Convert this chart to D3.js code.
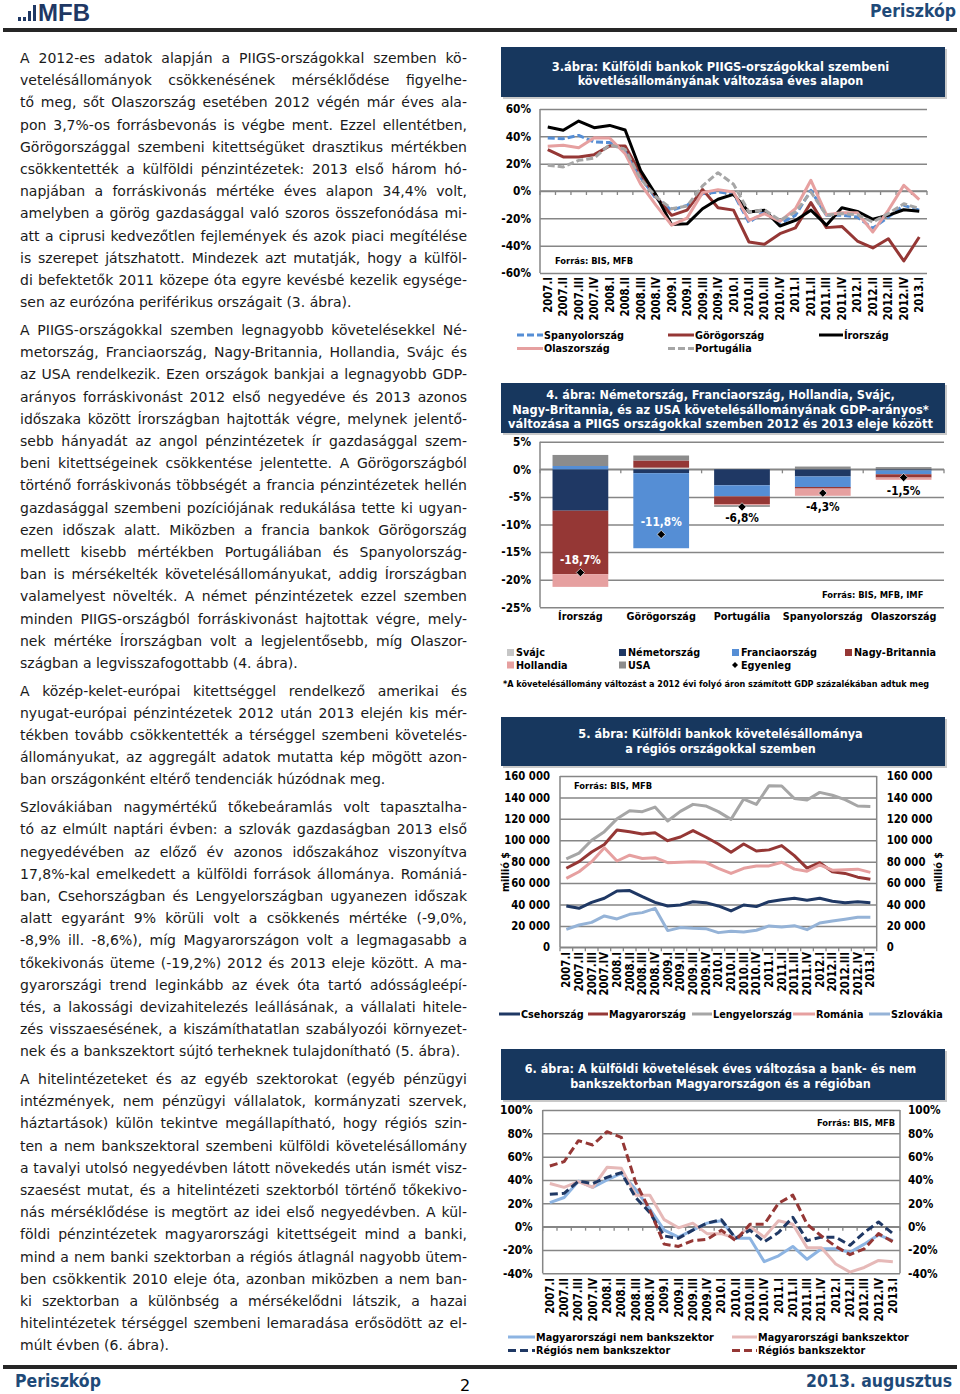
<!DOCTYPE html>
<html><head><meta charset="utf-8">
<script src="https://cdn.jsdelivr.net/npm/d3@7"></script>
<style>
html,body{margin:0;padding:0;background:#fff;}
svg{display:block;}
</style></head><body>
<svg id="page" width="960" height="1394"></svg>
<script>
// ---------------- DATA ----------------
const quarters = ["2007.I","2007.II","2007.III","2007.IV","2008.I","2008.II","2008.III","2008.IV","2009.I","2009.II","2009.III","2009.IV","2010.I","2010.II","2010.III","2010.IV","2011.I","2011.II","2011.III","2011.IV","2012.I","2012.II","2012.III","2012.IV","2013.I"];

// Chart 3 (%)
const spanyol = [38.8,38.3,40.7,35.9,35.4,29.8,10,-5.6,-14,-10.5,-2,-0.7,-2,-23,-15,-24,-17.8,0.5,-17.8,-17.8,-19,-27.3,-19,-10.5,-14];
const gorog   = [30.2,24.9,24.9,26.6,33,32.9,12.7,-4.4,-17.8,-14,1.2,-12.2,-14,-37.3,-39,-31.2,-27,-8.5,-26.8,-25.9,-36.6,-41.7,-34.9,-51.2,-33.7];
const ir      = [46.8,44.4,51.2,46.3,48,44.6,15,-3,-24.6,-24,-13,-6,-2.5,-15.4,-14,-25.6,-21.5,-14,-25,-12.2,-14.9,-20.7,-17.8,-13.7,-14.9];
const olasz   = [32.7,33.4,31.7,39,38.8,27.3,5,-10.5,-25,-19.8,-1.2,1,-0.7,-21.5,-16.6,-22.2,-13,7.8,-17.3,-15.9,-15.9,-30,-14.1,4.1,-6.3];
const portug  = [18.8,17.6,22.4,24.1,33.9,30.5,9,-4.4,-13,-11,3.7,13.4,5,-15.4,-13.7,-21.5,-15.4,-0.7,-17.8,-16.6,-17.3,-22.7,-16.6,-9.3,-12.9];
const ticks3 = [-60,-40,-20,0,20,40,60];

// Chart 4 (% of GDP)
const countries4 = ["Írország","Görögország","Portugália","Spanyolország","Olaszország"];
const svajc   = [0, 0.3, 0, 0, 0];
const nemet   = [-7.5, -0.7, -2.9, -1.3, -0.2];
const francia = [0.6, -13.6, -2.0, -1.9, -0.7];
const nagyb   = [-11.5, 1.3, -1.4, -0.3, -0.6];
const holland = [-2.3, 0, -0.2, -1.3, -0.4];
const usa     = [2.0, 0.9, -0.3, 0.5, 0.4];
const egyenleg = [-18.7, -11.8, -6.8, -4.3, -1.5];
const ticks4 = [-25,-20,-15,-10,-5,0,5];

// Chart 5 (millió $)
const cseh    = [38600,36400,42000,45800,52600,53000,47300,42000,38600,39500,42600,41700,38600,34000,39500,38000,42600,44500,45800,44000,45800,43000,41700,42600,41700];
const magyar  = [73800,80000,89000,96000,109600,108000,105800,107000,99600,103000,109000,103000,96500,88700,96500,90000,91000,95000,85600,74000,79000,70500,69000,65500,63500];
const lengyel = [82500,88000,100000,108000,120000,127600,126700,131000,118000,127000,133500,132000,126700,119500,138500,133500,151000,150700,139000,137600,144700,142000,138000,132000,131500];
const roman   = [64400,70600,80000,93000,80600,86000,83000,83700,79000,79400,80000,79400,73800,69000,73800,76000,76000,79400,73000,71000,77000,72000,72500,73000,70000];
const szlovak = [16800,20800,23300,29300,26500,30800,32400,36400,15600,18400,17700,17400,13700,15000,14300,15900,20000,19000,20200,16500,22700,24600,26200,28000,28000];
const ticks5 = [0,20000,40000,60000,80000,100000,120000,140000,160000];

// Chart 6 (%)
const mNemBank = [20.6,25,39,33.7,40,45.7,32,15,-3,-9,-3,3,5,-10,-10,-30,-25,-17,-28,-19,-19,-22,-15,-7,-12];
const mBank    = [37,33.7,38.6,33.7,50.9,50,27,27,6,-1,3,-6,-6,-10,0,-9,5,2,-18,-18,-32,-39,-35,-29,-30];
const rNemBank = [27.7,28.6,39,37,42.3,46.3,25,12,-8,-10,-3,3,6,-10,-3,-13,-5,8,-12,-9,-9,-16,-5,4,-6];
const rBank    = [52,55.7,73.7,70,81.4,76.6,38,14,-15,-17,-12,-11,-3,-12,2,2,20,27,2,-8,-17,-24,-19,-6,-13];
const ticks6 = [-40,-20,0,20,40,60,80,100];

// Body text
const paragraphs = [
["A 2012-es adatok alapján a PIIGS-országokkal szemben kö-",
 "vetelésállományok csökkenésének mérséklődése figyelhe-",
 "tő meg, sőt Olaszország esetében 2012 végén már éves ala-",
 "pon 3,7%-os forrásbevonás is végbe ment. Ezzel ellentétben,",
 "Görögországgal szembeni kitettségüket drasztikus mértékben",
 "csökkentették a külföldi pénzintézetek: 2013 első három hó-",
 "napjában a forráskivonás mértéke éves alapon 34,4% volt,",
 "amelyben a görög gazdasággal való szoros összefonódása mi-",
 "att a ciprusi kedvezőtlen fejlemények és azok piaci megítélése",
 "is szerepet játszhatott. Mindezek azt mutatják, hogy a külföl-",
 "di befektetők 2011 közepe óta egyre kevésbé kezelik egysége-",
 "sen az eurózóna periférikus országait (3. ábra)."],
["A PIIGS-országokkal szemben legnagyobb követelésekkel Né-",
 "metország, Franciaország, Nagy-Britannia, Hollandia, Svájc és",
 "az USA rendelkezik. Ezen országok bankjai a legnagyobb GDP-",
 "arányos forráskivonást 2012 első negyedéve és 2013 azonos",
 "időszaka között Írországban hajtották végre, melynek jelentő-",
 "sebb hányadát az angol pénzintézetek ír gazdasággal szem-",
 "beni kitettségeinek csökkentése jelentette. A Görögországból",
 "történő forráskivonás többségét a francia pénzintézetek hellén",
 "gazdasággal szembeni pozíciójának redukálása tette ki ugyan-",
 "ezen időszak alatt. Miközben a francia bankok Görögország",
 "mellett kisebb mértékben Portugáliában és Spanyolország-",
 "ban is mérsékelték követelésállományukat, addig Írországban",
 "valamelyest növelték. A német pénzintézetek ezzel szemben",
 "minden PIIGS-országból forráskivonást hajtottak végre, mely-",
 "nek mértéke Írországban volt a legjelentősebb, míg Olaszor-",
 "szágban a legvisszafogottabb (4. ábra)."],
["A közép-kelet-európai kitettséggel rendelkező amerikai és",
 "nyugat-európai pénzintézetek 2012 után 2013 elején kis mér-",
 "tékben tovább csökkentették a térséggel szembeni követelés-",
 "állományukat, az aggregált adatok mutatta kép mögött azon-",
 "ban országonként eltérő tendenciák húzódnak meg."],
["Szlovákiában nagymértékű tőkebeáramlás volt tapasztalha-",
 "tó az elmúlt naptári évben: a szlovák gazdaságban 2013 első",
 "negyedévében az előző év azonos időszakához viszonyítva",
 "17,8%-kal emelkedett a külföldi források állománya. Romániá-",
 "ban, Csehországban és Lengyelországban ugyanezen időszak",
 "alatt egyaránt 9% körüli volt a csökkenés mértéke (-9,0%,",
 "-8,9% ill. -8,6%), míg Magyarországon volt a legmagasabb a",
 "tőkekivonás üteme (-19,2%) 2012 és 2013 eleje között. A ma-",
 "gyarországi trend leginkább az évek óta tartó adósságleépí-",
 "tés, a lakossági devizahitelezés leállásának, a vállalati hitele-",
 "zés visszaesésének, a kiszámíthatatlan szabályozói környezet-",
 "nek és a bankszektort sújtó terheknek tulajdonítható (5. ábra)."],
["A hitelintézeteket és az egyéb szektorokat (egyéb pénzügyi",
 "intézmények, nem pénzügyi vállalatok, kormányzati szervek,",
 "háztartások) külön tekintve megállapítható, hogy régiós szin-",
 "ten a nem bankszektoral szembeni külföldi követelésállomány",
 "a tavalyi utolsó negyedévben látott növekedés után ismét visz-",
 "szaesést mutat, és a hitelintézeti szektorból történő tőkekivo-",
 "nás mérséklődése is megtört az idei első negyedévben. A kül-",
 "földi pénzintézetek magyarországi kitettségeit mind a banki,",
 "mind a nem banki szektorban a régiós átlagnál nagyobb ütem-",
 "ben csökkentik 2010 eleje óta, azonban miközben a nem ban-",
 "ki szektorban a különbség a mérsékelődni látszik, a hazai",
 "hitelintézetek térséggel szembeni lemaradása erősödött az el-",
 "múlt évben (6. ábra)."]
];

// ---------------- DRAWING ----------------
const FONT = '"DejaVu Sans", Verdana, sans-serif';
const GRID = "#868686";
const NAVYBOX = "#17375E";
const HEAD = "#1F4A78";
const svg = d3.select("#page");
svg.append("rect").attr("width",960).attr("height",1394).attr("fill","#fff");

const loc = d3.formatLocale({decimal:",", thousands:" ", grouping:[3], currency:["","$"], minus:"-"});
const fmtThou = loc.format(",");
const fmtDec = loc.format(".1f");
const fmtPct = d => d + "%";

// squeeze a text horizontally (Tahoma-like narrow bold) via a real transform
function squeeze(node, target){
  const el = d3.select(node);
  const w = node.getComputedTextLength();
  if (!w) return;
  const f = target / w;
  const x = +el.attr("x") || 0, y = +el.attr("y") || 0;
  const tr = el.attr("transform") || "";
  el.attr("x",0).attr("y",0).attr("transform", `${tr} translate(${x},${y}) scale(${f},1)`.trim());
}

// header / footer
const hdr = svg.append("g");
[[18,17,3,4],[23,17,3,4],[28,11,3,10],[33,5,3,16]].forEach(r=>{
  hdr.append("rect").attr("x",r[0]).attr("y",r[1]).attr("width",r[2]).attr("height",r[3]).attr("fill","#1F3864");
});
const mfb = hdr.append("text").attr("x",38).attr("y",21).attr("font-family",'"Liberation Sans", Arial, sans-serif')
  .attr("font-weight","bold").attr("font-size",24).attr("fill","#1F3864").text("MFB");
squeeze(mfb.node(), 52);
const hp = hdr.append("text").attr("x",956).attr("y",17).attr("text-anchor","end").attr("font-family",FONT)
  .attr("font-weight","bold").attr("font-size",17).attr("fill",HEAD).text("Periszkóp");
squeeze(hp.node(), 86);
hdr.append("rect").attr("x",3).attr("y",28).attr("width",954).attr("height",4).attr("fill","#262626");
hdr.append("rect").attr("x",3).attr("y",1365).attr("width",954).attr("height",4).attr("fill","#262626");
const fp = hdr.append("text").attr("x",15).attr("y",1387).attr("font-family",FONT).attr("font-weight","bold")
  .attr("font-size",17).attr("fill",HEAD).text("Periszkóp");
squeeze(fp.node(), 86);
const fd = hdr.append("text").attr("x",952).attr("y",1387).attr("text-anchor","end").attr("font-family",FONT).attr("font-weight","bold")
  .attr("font-size",17).attr("fill",HEAD).text("2013. augusztus");
squeeze(fd.node(), 146);
hdr.append("text").attr("x",465).attr("y",1391).attr("text-anchor","middle").attr("font-family",FONT)
  .attr("font-size",16).attr("fill","#000").text("2");

// body text
(function(){
  let li = 0;
  paragraphs.forEach((p,pi)=>{
    p.forEach((line,k)=>{
      const y = 63 + 22.2*li + 5.5*pi;
      const t = svg.append("text").attr("x",20).attr("y",y).attr("font-family",FONT)
        .attr("font-size",14).attr("fill","#1a1a1a").text(line);
      if (k < p.length-1) {
        const w = t.node().getComputedTextLength();
        const n = (line.match(/ /g)||[]).length;
        if (n>0) t.style("word-spacing", ((447-w)/n) + "px");
      }
      li++;
    });
  });
})();

// helpers
function titleBox(y, h, lines){
  svg.append("rect").attr("x",503).attr("y",y+2).attr("width",444).attr("height",h).attr("fill","#c9c9c9");
  svg.append("rect").attr("x",501).attr("y",y).attr("width",444).attr("height",h).attr("fill",NAVYBOX);
  lines.forEach(l=>{
    const t = svg.append("text").attr("x",720.5).attr("y",l[1]).attr("dy","0.35em").attr("text-anchor","middle")
      .attr("font-family",FONT).attr("font-weight","bold").attr("font-size",13).attr("fill","#fff").text(l[0]);
    squeeze(t.node(), l[2]);
  });
}
function styleAxis(a, fs){
  a.select(".domain").remove();
  a.attr("font-family",FONT).attr("font-weight","bold").attr("font-size",fs);
  a.selectAll("text").attr("fill","#000");
}
function yGrid(g, y, x0, x1, ticks, fmt, pad, fs){
  const a = g.append("g").attr("transform",`translate(${x0},0)`)
    .call(d3.axisLeft(y).tickValues(ticks).tickSize(-(x1-x0)).tickPadding(pad).tickFormat(fmt));
  styleAxis(a, fs);
  a.selectAll(".tick line").attr("stroke",GRID).attr("stroke-width",1.5);
  return a;
}
function yRight(g, y, x1, ticks, fmt, pad, fs){
  const a = g.append("g").attr("transform",`translate(${x1},0)`)
    .call(d3.axisRight(y).tickValues(ticks).tickSize(0).tickPadding(pad).tickFormat(fmt));
  styleAxis(a, fs);
  return a;
}
function vline(g, x, y0, y1){
  g.append("line").attr("x1",x).attr("x2",x).attr("y1",y0).attr("y2",y1).attr("stroke",GRID).attr("stroke-width",1.5);
}
function xAxisLine(g, x, y0){
  const r = x.range();
  g.append("line").attr("x1",r[0]).attr("x2",r[1]).attr("y1",y0).attr("y2",y0).attr("stroke",GRID).attr("stroke-width",1.5);
  const bs = x.domain().map(d => x(d) - (x.step()-x.bandwidth())/2);
  bs.push(r[1]);
  g.selectAll(null).data(bs).join("line").attr("x1",d=>d).attr("x2",d=>d)
    .attr("y1",y0).attr("y2",y0+4).attr("stroke",GRID).attr("stroke-width",1.3);
}
function xRotLabels(g, x, yTop, fs){
  const a = g.append("g").attr("transform",`translate(0,${yTop})`)
    .call(d3.axisBottom(x).tickSize(0).tickPadding(0));
  styleAxis(a, fs);
  a.selectAll("text").attr("transform","rotate(-90)").attr("text-anchor","end")
    .attr("x",0).attr("y",0).attr("dy","0.35em");
}
function drawLines(g, x, y, series, styles){
  const line = d3.line().x((d,i)=>x(quarters[i]) + x.bandwidth()/2).y(d=>y(d));
  series.forEach(s=>{
    const st = styles[s.name];
    g.append("path").attr("d", line(s.values)).attr("fill","none").attr("stroke",st.color)
      .attr("stroke-width",st.w||3).attr("stroke-linejoin","round").attr("stroke-linecap","butt")
      .attr("stroke-dasharray",st.dash||null);
  });
}
function legendLine(g, x1, x2, y, st, label, fs){
  g.append("line").attr("x1",x1).attr("x2",x2).attr("y1",y).attr("y2",y).attr("stroke",st.color)
    .attr("stroke-width",3).attr("stroke-dasharray",st.dash||null);
  g.append("text").attr("x",x2+1).attr("y",y).attr("dy","0.35em").attr("font-size",fs||11).text(label);
}
function chartGroup(){
  return svg.append("g").attr("class","ch").attr("font-family",FONT).attr("font-weight","bold").attr("fill","#000");
}

// ---------- Chart 3 ----------
titleBox(47, 50, [["3.ábra: Külföldi bankok PIIGS-országokkal szembeni",66,338],["követlésállományának változása éves alapon",80.5,286]]);
(function(){
  const g = chartGroup();
  const x = d3.scaleBand().domain(quarters).range([540,927]);
  const y = d3.scaleLinear().domain([-60,60]).range([273,109]);
  yGrid(g, y, 540, 927, ticks3, fmtPct, 9, 12);
  vline(g, 540, 109, 273);
  xAxisLine(g, x, y(0));
  xRotLabels(g, x, 277, 11.5);
  g.append("text").attr("x",555).attr("y",261).attr("dy","0.35em").attr("font-size",9.5).text("Forrás: BIS, MFB");
  const series = [
    {name:"Spanyolország", values:spanyol},
    {name:"Görögország", values:gorog},
    {name:"Írország", values:ir},
    {name:"Olaszország", values:olasz},
    {name:"Portugália", values:portug}];
  const styles = {
    "Spanyolország":{color:"#558ED5", dash:"7,3"},
    "Görögország":{color:"#953735"},
    "Írország":{color:"#000000"},
    "Olaszország":{color:"#E6A0A0"},
    "Portugália":{color:"#A6A6A6", dash:"7,3"}};
  drawLines(g, x, y, series, styles);
  const pos = [[517,543,335],[668,694,335],[819,843,335],[517,543,348.5],[668,694,348.5]];
  series.forEach((s,i)=>legendLine(g, pos[i][0], pos[i][1], pos[i][2], styles[s.name], s.name, 11));
})();

// ---------- Chart 4 ----------
titleBox(383, 50, [["4. ábra: Németország, Franciaország, Hollandia, Svájc,",394,349],["Nagy-Britannia, és az USA követelésállományának GDP-arányos*",409,417],["változása a PIIGS országokkal szemben 2012 és 2013 eleje között",423.5,425]]);
(function(){
  const g = chartGroup();
  const keys = ["Svájc","Németország","Franciaország","Nagy-Britannia","Hollandia","USA"];
  const vals = [svajc, nemet, francia, nagyb, holland, usa];
  const colors = {"Svájc":"#C6C6C6","Németország":"#1F3864","Franciaország":"#558ED5","Nagy-Britannia":"#953735","Hollandia":"#E6A0A0","USA":"#8C8C8C"};
  const rows = countries4.map((c,i)=>{ const o={country:c}; keys.forEach((k,j)=>o[k]=vals[j][i]); return o; });
  const x = d3.scaleBand().domain(countries4).range([540,944]).paddingInner(0.31).paddingOuter(0.155);
  const y = d3.scaleLinear().domain([-25,5]).range([607.3,441.7]);
  yGrid(g, y, 540, 944, ticks4, fmtPct, 9, 12);
  vline(g, 540, 441.7, 607.3);
  xAxisLine(g, x, y(0));
  const stack = d3.stack().keys(keys).offset(d3.stackOffsetDiverging)(rows);
  stack.forEach(layer=>{
    g.append("g").attr("fill",colors[layer.key]).selectAll("rect").data(layer).join("rect")
      .attr("x",d=>x(d.data.country)).attr("width",x.bandwidth())
      .attr("y",d=>y(Math.max(d[0],d[1]))).attr("height",d=>Math.abs(y(d[0])-y(d[1])));
  });
  const a = g.append("g").attr("transform",`translate(0,${y(-25)})`).call(d3.axisBottom(x).tickSize(0).tickPadding(5));
  styleAxis(a, 11);
  g.selectAll("path.dia").data(egyenleg).join("path").attr("class","dia")
    .attr("d", d3.symbol(d3.symbolSquare, 34))
    .attr("transform",(d,i)=>`translate(${x(countries4[i])+x.bandwidth()/2},${y(d)}) rotate(45)`)
    .attr("fill","#000").attr("stroke","#fff").attr("stroke-width",0.6);
  egyenleg.forEach((v,i)=>{
    let negSum = 0; keys.forEach((k,j)=>{ if (vals[j][i]<0) negSum += vals[j][i]; });
    const inside = i < 2;
    g.append("text").attr("x",x(countries4[i])+x.bandwidth()/2)
      .attr("y", inside ? y(v)-13 : y(negSum)+11).attr("dy","0.35em").attr("text-anchor","middle")
      .attr("font-size",12).attr("fill", inside ? "#fff" : "#000").text(fmtDec(v)+"%");
  });
  g.append("text").attr("x",822).attr("y",595).attr("dy","0.35em").attr("font-size",9.5).text("Forrás: BIS, MFB, IMF");
  const pos = [[507,652.5],[619,652.5],[732,652.5],[845,652.5],[507,665],[619,665]];
  keys.forEach((k,i)=>{
    g.append("rect").attr("x",pos[i][0]).attr("y",pos[i][1]-3.5).attr("width",7).attr("height",7).attr("fill",colors[k]);
    g.append("text").attr("x",pos[i][0]+9).attr("y",pos[i][1]).attr("dy","0.35em").attr("font-size",11).text(k);
  });
  g.append("path").attr("d",d3.symbol(d3.symbolSquare,18)).attr("transform","translate(735,665) rotate(45)").attr("fill","#000");
  g.append("text").attr("x",741).attr("y",665).attr("dy","0.35em").attr("font-size",11).text("Egyenleg");
  g.append("text").attr("x",503).attr("y",683.5).attr("dy","0.35em").attr("font-size",9)
    .attr("data-w",427).text("*A követelésállomány változást a 2012 évi folyó áron számított GDP százalékában adtuk meg");
})();

// ---------- Chart 5 ----------
titleBox(717, 49, [["5. ábra: Külföldi bankok követelésállománya",733.5,285],["a régiós országokkal szemben",748.5,191]]);
(function(){
  const g = chartGroup();
  const x = d3.scaleBand().domain(quarters).range([560,876.7]);
  const y = d3.scaleLinear().domain([0,160000]).range([947.3,776]);
  yGrid(g, y, 560, 876.7, ticks5, fmtThou, 10, 11.5);
  yRight(g, y, 876.7, ticks5, fmtThou, 10, 11.5);
  vline(g, 560, 776, 947.3);
  vline(g, 876.7, 776, 947.3);
  xAxisLine(g, x, y(0));
  xRotLabels(g, x, 952, 11.5);
  g.append("text").attr("x",574).attr("y",785.5).attr("dy","0.35em").attr("font-size",9.5).text("Forrás: BIS, MFB");
  g.append("text").attr("transform","translate(505,872) rotate(-90)").attr("text-anchor","middle").attr("dy","0.35em").attr("font-size",11).text("millió $");
  g.append("text").attr("transform","translate(938,872) rotate(-90)").attr("text-anchor","middle").attr("dy","0.35em").attr("font-size",11).text("millió $");
  const series = [
    {name:"Csehország", values:cseh},
    {name:"Magyarország", values:magyar},
    {name:"Lengyelország", values:lengyel},
    {name:"Románia", values:roman},
    {name:"Szlovákia", values:szlovak}];
  const styles = {
    "Csehország":{color:"#1F3864"},
    "Magyarország":{color:"#953735"},
    "Lengyelország":{color:"#A6A6A6"},
    "Románia":{color:"#E6A0A0"},
    "Szlovákia":{color:"#95B3D7"}};
  drawLines(g, x, y, series, styles);
  const pos = [[499,520],[588,608],[692,712],[793,815],[869,890]];
  series.forEach((s,i)=>legendLine(g, pos[i][0], pos[i][1], 1014, styles[s.name], s.name, 11));
})();

// ---------- Chart 6 ----------
titleBox(1049, 51, [["6. ábra: A külföldi követelések éves változása a bank- és nem",1068.5,392],["bankszektorban Magyarországon és a régióban",1083.5,301]]);
(function(){
  const g = chartGroup();
  const x = d3.scaleBand().domain(quarters).range([542.7,900]);
  const y = d3.scaleLinear().domain([-40,100]).range([1273.3,1110]);
  yGrid(g, y, 542.7, 900, ticks6, fmtPct, 10, 12);
  yRight(g, y, 900, ticks6, fmtPct, 8, 12);
  vline(g, 542.7, 1110, 1273.3);
  vline(g, 900, 1110, 1273.3);
  xAxisLine(g, x, y(0));
  xRotLabels(g, x, 1278, 11.5);
  g.append("text").attr("x",817).attr("y",1123).attr("dy","0.35em").attr("font-size",9.5).text("Forrás: BIS, MFB");
  const series = [
    {name:"Magyarországi nem bankszektor", values:mNemBank},
    {name:"Magyarországi bankszektor", values:mBank},
    {name:"Régiós nem bankszektor", values:rNemBank},
    {name:"Régiós bankszektor", values:rBank}];
  const styles = {
    "Magyarországi nem bankszektor":{color:"#8DB4E2"},
    "Magyarországi bankszektor":{color:"#E6B9B8"},
    "Régiós nem bankszektor":{color:"#1F3864", dash:"8,4"},
    "Régiós bankszektor":{color:"#953735", dash:"8,4"}};
  drawLines(g, x, y, series, styles);
  const pos = [[508,535,1337],[732,757,1337],[508,535,1350.5],[732,757,1350.5]];
  series.forEach((s,i)=>legendLine(g, pos[i][0], pos[i][1], pos[i][2], styles[s.name], s.name, 11));
})();

// condense chart text (Tahoma-like width) with a real transform
svg.selectAll("g.ch text").each(function(){
  const el = d3.select(this);
  const w = this.getComputedTextLength();
  const target = el.attr("data-w") ? +el.attr("data-w") : w*0.88;
  squeeze(this, target);
});
</script>
</body></html>
